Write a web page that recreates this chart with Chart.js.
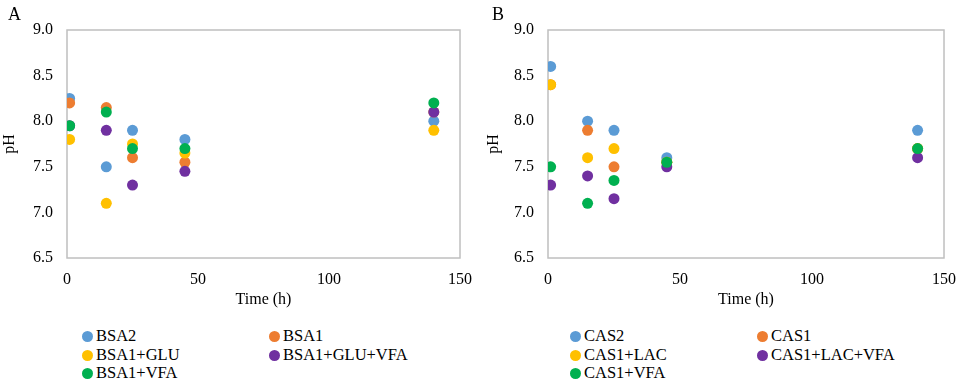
<!DOCTYPE html>
<html>
<head>
<meta charset="utf-8">
<script src="https://cdn.jsdelivr.net/npm/chart.js@4"></script>
<style>
  body { margin: 0; background: #fff; font-family: 'Liberation Serif', 'Times New Roman', serif; }
  .panel { position: absolute; top: 0; width: 484px; height: 387px; }
  .chartBox { position: absolute; left: 0; top: 0; width: 484px; height: 312px; }
  .tag { position: absolute; top: 4px; font-size: 18px; color: #000; }
  .legend { position: absolute; top: 327px; font-size: 16.5px; color: #000; }
  .item { position: absolute; white-space: nowrap; line-height: 18px; }
  .dot { display: inline-block; width: 11px; height: 11px; border-radius: 50%; vertical-align: -1px; margin-right: 3px; }
</style>
</head>
<body>
<div class="panel" style="left:0">
  <div class="chartBox"><canvas id="chartA"></canvas></div>
  <div class="tag" style="left:8px">A</div>
  <div class="legend" id="legendA" style="left:82px"></div>
</div>
<div class="panel" style="left:484px">
  <div class="chartBox"><canvas id="chartB"></canvas></div>
  <div class="tag" style="left:8px">B</div>
  <div class="legend" id="legendB" style="left:86px"></div>
</div>
<script>
// Sampling times (h)
const times = [1, 15, 25, 45, 140];

// Series colours (Office palette)
const colors = ['#5B9BD5', '#ED7D31', '#FFC000', '#7030A0', '#00B050'];

// Panel A - BSA
const labelsA = ['BSA2', 'BSA1', 'BSA1+GLU', 'BSA1+GLU+VFA', 'BSA1+VFA'];
const bsa2 = [8.25, 7.5, 7.9, 7.8, 8.0];
const bsa1 = [8.2, 8.15, 7.6, 7.55, 8.1];
const bsa1Glu = [7.8, 7.1, 7.75, 7.65, 7.9];
const bsa1GluVfa = [7.95, 7.9, 7.3, 7.45, 8.1];
const bsa1Vfa = [7.95, 8.1, 7.7, 7.7, 8.2];

// Panel B - CAS
const labelsB = ['CAS2', 'CAS1', 'CAS1+LAC', 'CAS1+LAC+VFA', 'CAS1+VFA'];
const cas2 = [8.6, 8.0, 7.9, 7.6, 7.9];
const cas1 = [8.4, 7.9, 7.5, 7.55, 7.7];
const cas1Lac = [8.4, 7.6, 7.7, 7.55, 7.7];
const cas1LacVfa = [7.3, 7.4, 7.15, 7.5, 7.6];
const cas1Vfa = [7.5, 7.1, 7.35, 7.55, 7.7];

const yTicks = [6.5, 7.0, 7.5, 8.0, 8.5, 9.0];
const xTicks = [0, 50, 100, 150];

const FONT = "'Liberation Serif', 'Times New Roman', serif";
Chart.defaults.font.family = FONT;

// draws the light grey frame round the plot area
const frame = {
    id: 'frame',
    beforeDatasetsDraw(chart) {
        const a = chart.chartArea;
        const c = chart.ctx;
        c.save();
        c.strokeStyle = '#BFBFBF';
        c.lineWidth = 1.5;
        c.strokeRect(a.left, a.top, a.right - a.left, a.bottom - a.top);
        c.restore();
    }
};

function makeChart(id, labels, series, padRight, yWidth) {
    const datasets = series.map((vals, i) => ({
        label: labels[i],
        data: vals.map((v, k) => ({ x: times[k], y: v })),
        backgroundColor: colors[i],
        borderColor: colors[i],
        pointRadius: 5.5,
        pointBorderWidth: 0,
        order: series.length - i   // later series sit on top, like the original
    }));
    return new Chart(document.getElementById(id), {
        type: 'scatter',
        data: { datasets: datasets },
        plugins: [frame],
        options: {
            responsive: true,
            maintainAspectRatio: false,
            animation: false,
            layout: { padding: { top: 30, right: padRight, bottom: 3, left: 0 } },
            plugins: { legend: { display: false }, tooltip: { enabled: false } },
            scales: {
                x: {
                    type: 'linear', min: 0, max: 150,
                    afterBuildTicks: s => { s.ticks = xTicks.map(v => ({ value: v })); },
                    afterFit: s => { s.height = 51; },
                    grid: { display: false, drawTicks: false },
                    border: { display: false },
                    ticks: { color: '#000', font: { family: FONT, size: 16 }, padding: 12 },
                    title: { display: true, text: 'Time (h)', color: '#000', font: { family: FONT, size: 16 }, padding: { top: 2, bottom: 0 } }
                },
                y: {
                    type: 'linear', min: 6.5, max: 9.0,
                    afterBuildTicks: s => { s.ticks = yTicks.map(v => ({ value: v })); },
                    afterFit: s => { s.width = yWidth; },
                    grid: { display: false, drawTicks: false },
                    border: { display: false },
                    ticks: { color: '#000', font: { family: FONT, size: 16 }, padding: 14, callback: v => v.toFixed(1) },
                    title: { display: true, text: 'pH', color: '#000', font: { family: FONT, size: 16 }, padding: 0 }
                }
            }
        }
    });
}

function makeLegend(id, labels) {
    const box = document.getElementById(id);
    const pos = [[0, 0], [187, 0], [0, 18.5], [187, 18.5], [0, 37]];
    labels.forEach((lab, i) => {
        const el = document.createElement('div');
        el.className = 'item';
        el.style.left = pos[i][0] + 'px';
        el.style.top = pos[i][1] + 'px';
        el.innerHTML = '<span class="dot" style="background:' + colors[i] + '"></span>' + lab;
        box.appendChild(el);
    });
}

makeChart('chartA', labelsA, [bsa2, bsa1, bsa1Glu, bsa1GluVfa, bsa1Vfa], 19, 67);
makeChart('chartB', labelsB, [cas2, cas1, cas1Lac, cas1LacVfa, cas1Vfa], 21, 64);
makeLegend('legendA', labelsA);
makeLegend('legendB', labelsB);
</script>
</body>
</html>
